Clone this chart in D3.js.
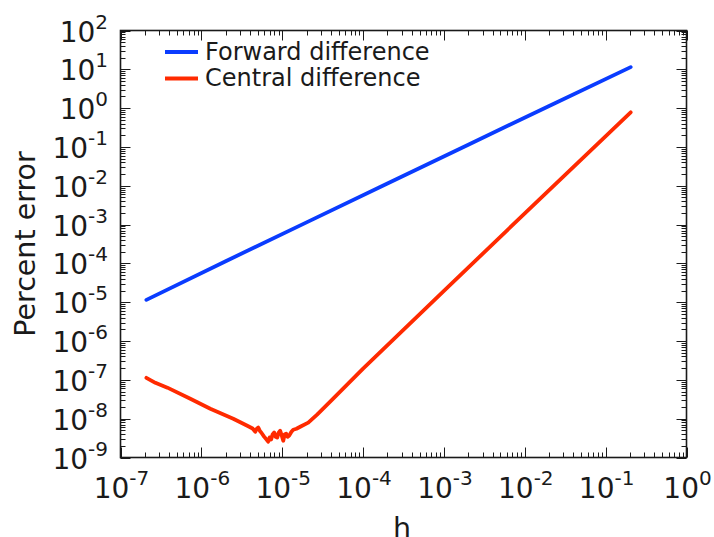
<!DOCTYPE html>
<html>
<head>
<meta charset="utf-8">
<script src="https://cdn.jsdelivr.net/npm/d3@7"></script>
<style>
  body { margin: 0; background: #fff; }
  svg { display: block; font-family: "DejaVu Sans", sans-serif; }
  .tick-label { fill: #1a1a1a; font-size: 28px; }
</style>
</head>
<body>
<div id="chart"></div>
<script>
// forward difference: straight line, slope 1
var hForward = [2.09e-7, 2e-6, 2e-5, 2e-4, 2e-3, 2e-2, 2.04e-1];
var errForward = [1.15e-5, 1.14e-4, 1.14e-3, 1.14e-2, 0.114, 1.14, 11.4];

// central difference: roundoff on the left, noisy minimum, slope 2 on the right
var hCentral = [2.09e-7, 2.7e-7, 3.8e-7, 7.3e-7, 1.29e-6, 2.48e-6, 3.7e-6, 4.3e-6, 4.65e-6,
    4.85e-6, 5.06e-6, 5.3e-6, 5.5e-6, 6.0e-6, 6.4e-6, 6.7e-6, 7.0e-6, 7.3e-6, 7.6e-6, 7.96e-6,
    8.3e-6, 8.67e-6, 9.0e-6, 9.44e-6, 9.9e-6, 1.03e-5, 1.07e-5, 1.12e-5, 1.17e-5, 1.22e-5,
    1.3e-5, 1.37e-5, 1.5e-5, 1.67e-5, 2.1e-5, 2.7e-5, 4.27e-5, 1e-4, 1e-3, 1e-2, 2.04e-1];
var errCentral = [1.13e-7, 8.4e-8, 6.3e-8, 3.27e-8, 1.81e-8, 1.0e-8, 6.6e-9, 5.6e-9, 4.6e-9,
    5.5e-9, 5.9e-9, 4.8e-9, 4.4e-9, 3.4e-9, 2.9e-9, 2.56e-9, 3.3e-9, 2.9e-9, 3.9e-9, 4.4e-9,
    3.4e-9, 3.25e-9, 4.3e-9, 4.9e-9, 3.6e-9, 2.7e-9, 3.9e-9, 4.1e-9, 3.4e-9, 3.66e-9,
    4.6e-9, 5.2e-9, 5.5e-9, 6.2e-9, 7.9e-9, 1.27e-8, 3.27e-8, 1.95e-7, 1.95e-5, 1.95e-3, 0.78];

var xExponents = [-7, -6, -5, -4, -3, -2, -1, 0];
var yExponents = [-9, -8, -7, -6, -5, -4, -3, -2, -1, 0, 1, 2];
var legendNames = ["Forward difference", "Central difference"];
var lineColors = ["#0a3cff", "#ff2a00"];

var width = 714, height = 537;
var plotLeft = 120.5, plotRight = 686.5, plotTop = 30.5, plotBottom = 457.5;

var svg = d3.select("#chart").append("svg")
    .attr("width", width).attr("height", height);

var x = d3.scaleLog().domain([1e-7, 1]).range([plotLeft, plotRight]);
var y = d3.scaleLog().domain([1e-9, 1e2]).range([plotBottom, plotTop]);

// minor tick values: 2..9 times each decade
function minors(exps) {
    var out = [];
    for (var i = 0; i < exps.length - 1; i++) {
        for (var k = 2; k <= 9; k++) out.push(k * Math.pow(10, exps[i]));
    }
    return out;
}

var ticks = svg.append("g").attr("stroke", "#1a1a1a").attr("stroke-width", 1);

function drawX(vals, len) {
    vals.forEach(function(v) {
        var px = Math.round(x(v)) + 0.5;
        ticks.append("line").attr("x1", px).attr("x2", px).attr("y1", plotBottom).attr("y2", plotBottom - len);
        ticks.append("line").attr("x1", px).attr("x2", px).attr("y1", plotTop).attr("y2", plotTop + len);
    });
}
function drawY(vals, len) {
    vals.forEach(function(v) {
        var py = Math.round(y(v)) + 0.5;
        ticks.append("line").attr("y1", py).attr("y2", py).attr("x1", plotLeft).attr("x2", plotLeft + len);
        ticks.append("line").attr("y1", py).attr("y2", py).attr("x1", plotRight).attr("x2", plotRight - len);
    });
}
drawX(xExponents.map(e => Math.pow(10, e)), 10);
drawX(minors(xExponents), 5);
drawY(yExponents.map(e => Math.pow(10, e)), 10);
drawY(minors(yExponents), 5);

// tick labels as 10 with superscript
function powLabel(sel, e) {
    sel.append("tspan").text("10");
    sel.append("tspan").attr("dy", -13).attr("font-size", 20).text(e);
}

xExponents.forEach(function(e) {
    var t = svg.append("text").attr("class", "tick-label")
        .attr("x", x(Math.pow(10, e)) + 1).attr("y", 498)
        .attr("text-anchor", "middle");
    powLabel(t, e);
});

yExponents.forEach(function(e) {
    var t = svg.append("text").attr("class", "tick-label")
        .attr("x", 108).attr("y", y(Math.pow(10, e)) + 11)
        .attr("text-anchor", "end");
    powLabel(t, e);
});

// data lines
var line = d3.line().x(d => x(d[0])).y(d => y(d[1]));

svg.append("path")
    .datum(d3.zip(hForward, errForward))
    .attr("d", line)
    .attr("fill", "none").attr("stroke", lineColors[0])
    .attr("stroke-width", 3.8).attr("stroke-linejoin", "round").attr("stroke-linecap", "round");

svg.append("path")
    .datum(d3.zip(hCentral, errCentral))
    .attr("d", line)
    .attr("fill", "none").attr("stroke", lineColors[1])
    .attr("stroke-width", 3.8).attr("stroke-linejoin", "round").attr("stroke-linecap", "round");

// frame
svg.append("rect")
    .attr("x", plotLeft).attr("y", plotTop)
    .attr("width", plotRight - plotLeft).attr("height", plotBottom - plotTop)
    .attr("fill", "none").attr("stroke", "#1a1a1a").attr("stroke-width", 1.6);

// legend, no box
legendNames.forEach(function(name, i) {
    var ly = 52 + i * 26.5;
    svg.append("line")
        .attr("x1", 165).attr("x2", 198).attr("y1", ly).attr("y2", ly)
        .attr("stroke", lineColors[i]).attr("stroke-width", 3.8);
    svg.append("text")
        .attr("x", 205).attr("y", ly + 7.5)
        .attr("font-size", 24).attr("fill", "#1a1a1a")
        .text(name);
});

// axis titles
svg.append("text")
    .attr("x", 402).attr("y", 538)
    .attr("text-anchor", "middle").attr("font-size", 28.5).attr("fill", "#1a1a1a")
    .text("h");

svg.append("text")
    .attr("transform", "translate(35,244) rotate(-90)")
    .attr("text-anchor", "middle").attr("font-size", 28.5).attr("fill", "#1a1a1a")
    .text("Percent error");
</script>
</body>
</html>
